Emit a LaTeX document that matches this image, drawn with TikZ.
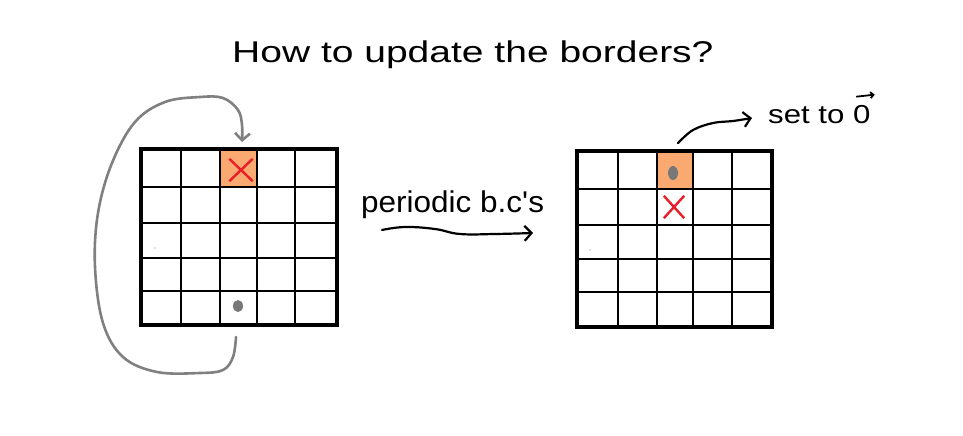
\documentclass[tikz,border=0pt]{standalone}
\usepackage{fontspec}
\setmainfont{Liberation Sans}
\newfontfamily\handw[FakeStretch=1.3]{Liberation Sans}
\newfontfamily\handn[FakeStretch=1.05]{Liberation Sans}
\newfontfamily\hands[FakeStretch=1.2]{Liberation Sans}
\usetikzlibrary{arrows.meta,shapes.geometric,shapes.misc,calc}
\definecolor{cellorange}{RGB}{250,170,112}
\definecolor{xred}{RGB}{232,30,40}
\definecolor{curvegray}{RGB}{128,128,128}
\definecolor{dotgray}{RGB}{120,120,120}
\tikzset{
  gridline/.style={line width=1.2pt,black},
  border/.style={line width=4pt,black,line join=miter},
  hotcell/.style={rectangle,fill=cellorange,inner sep=0pt},
  xmark/.style={cross out,draw=xred,line width=2.4pt,inner sep=0pt},
  ball/.style={ellipse,fill=dotgray,inner sep=0pt,minimum width=10pt,minimum height=12pt},
  speck/.style={circle,fill=gray,inner sep=0pt,minimum size=1.2pt},
  grayarrow/.style={draw=curvegray,line width=2.6pt,line cap=round,line join=round,
    -{Straight Barb[length=7pt,width=15pt]}},
  blackarrow/.style={draw=black,line width=2.2pt,line cap=round,line join=round,
    -{Straight Barb[length=7pt,width=15pt]}},
  vecarrow/.style={draw=black,line width=1.8pt,line cap=round,
    -{Straight Barb[length=3pt,width=6pt]}},
  hand/.style={inner sep=0pt,text=black}
}
\begin{document}
\begin{tikzpicture}[x=1pt,y=-1pt]
\useasboundingbox[fill=white] (0,0) rectangle (963,436);

% ---------- title ----------
\node[hand,anchor=base west,font=\handw\fontsize{30}{36}\selectfont] (title) at (232,63) {How to update the borders?};

% ---------- left grid ----------
\node[hotcell,minimum width=37pt,minimum height=38pt] (cellL) at (238.5,168) {};
\foreach \x in {181,220,257,295} \draw[gridline] (\x,149) -- (\x,325);
\foreach \y in {187,223,258,291} \draw[gridline] (141,\y) -- (337,\y);
\draw[border] (141,149) rectangle (337,325);
\node[xmark,minimum width=21pt,minimum height=20pt] (xL) at (241,170) {};
\node[ball] (dotL) at (238,306) {};
\node[speck] (speckL) at (155,248) {};

% ---------- right grid ----------
\node[hotcell,minimum width=36pt,minimum height=38pt] (cellR) at (675,170) {};
\foreach \x in {618,657,693,732} \draw[gridline] (\x,151) -- (\x,327);
\foreach \y in {189,225,259,292} \draw[gridline] (577,\y) -- (772,\y);
\draw[border] (577,151) rectangle (772,327);
\node[ball,minimum width=10pt,minimum height=14pt] (dotR) at (673,173) {};
\node[xmark,minimum width=18pt,minimum height=20pt] (xR) at (674,207) {};
\node[speck] (speckR) at (590,250) {};

% ---------- labels ----------
\node[hand,anchor=base west,font=\handn\fontsize{30}{36}\selectfont] (pbc) at (361,212) {periodic b.c's};
\node[hand,anchor=base west,font=\hands\fontsize{26}{30}\selectfont] (setto) at (768,123) {set to 0};
\draw[vecarrow] ($(setto.north east)+(-14,-8)$) -- ($(setto.north east)+(4,-10)$);

% ---------- connectors ----------
\coordinate (srcL) at (236,337);
\coordinate (tipL) at (242,142);
\draw[grayarrow] plot[smooth,tension=0.6] coordinates {
  (srcL) (233,357) (223,370) (200,373) (157,372) (123,357) (103,323)
  (95,267) (98,213) (112,163) (135,122) (165,102) (200,97) (223,98)
  (238,110) (242,125) (tipL)};

\coordinate (startR) at (678,143);
\coordinate (tipR) at (752,118);
\draw[blackarrow] plot[smooth,tension=0.6] coordinates {
  (startR) (693,130) (713,123) (733,121) (tipR)};

\coordinate (a1) at (382,230);
\coordinate (a2) at (533,233);
\draw[blackarrow] plot[smooth,tension=0.7] coordinates {
  (a1) (405,227) (435,229) (460,234) (495,234) (a2)};
\end{tikzpicture}
\end{document}
